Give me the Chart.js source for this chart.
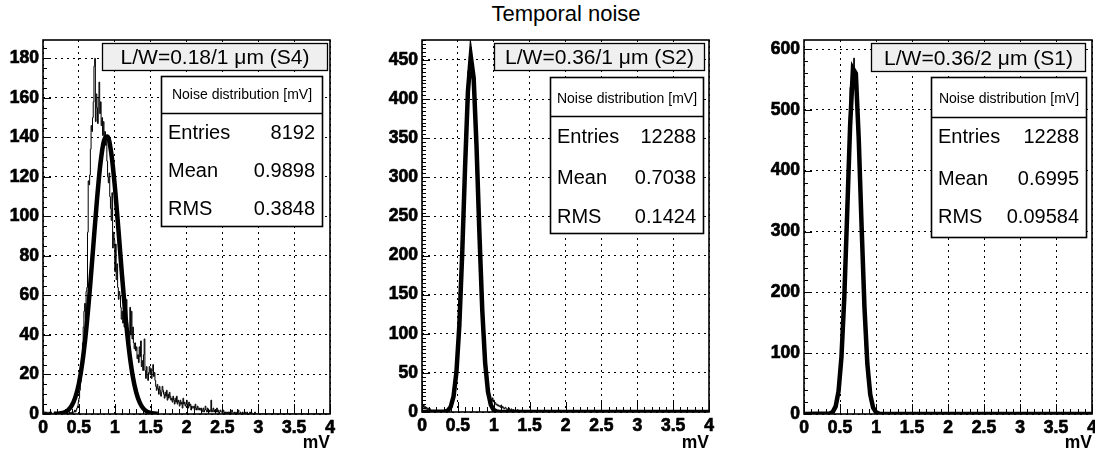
<!DOCTYPE html>
<html>
<head>
<meta charset="utf-8">
<script src="https://cdn.jsdelivr.net/npm/chart.js@4.4.1/dist/chart.umd.min.js"></script>
<style>
html,body{margin:0;padding:0;background:#fff;}
#wrap{position:relative;width:1095px;height:456px;overflow:hidden;background:#fff;}
canvas{position:absolute;top:0;}
#title{position:absolute;left:366px;top:3px;width:400px;text-align:center;font:22px "Liberation Sans",Arial,Helvetica,sans-serif;line-height:22px;color:#000;}
</style>
</head>
<body>
<div id="wrap">
<div id="title">Temporal noise</div>
<canvas id="c1" width="365" height="456" style="left:0px"></canvas>
<canvas id="c2" width="365" height="456" style="left:365px"></canvas>
<canvas id="c3" width="365" height="456" style="left:730px"></canvas>
</div>
<script>
// ---------------- DATA ----------------
const xTickLabels = ['0', '0.5', '1', '1.5', '2', '2.5', '3', '3.5', '4'];
const axisTitle = 'mV';
const binWidth = 0.01;          // histogram bin width (mV)
const histStart = 0.0;          // first bin lower edge (mV)

const panelTitles = ['L/W=0.18/1 \u03BCm (S4)', 'L/W=0.36/1 \u03BCm (S2)', 'L/W=0.36/2 \u03BCm (S1)'];
const statHeader = 'Noise distribution [mV]';
const statNames = ['Entries', 'Mean', 'RMS'];
const statsS4 = ['8192', '0.9898', '0.3848'];
const statsS2 = ['12288', '0.7038', '0.1424'];
const statsS1 = ['12288', '0.6995', '0.09584'];

// counts per 0.01 mV bin, starting at 0.00 mV
const histS4 = [
  8,2,1,0,1,0,1,0,0,1,
  0,0,1,0,0,0,0,1,0,0,
  0,0,0,0,0,1,0,0,0,0,
  0,0,0,0,1,0,0,0,1,0,
  0,1,0,1,1,2,1,2,3,4,
  6,8,12,16,22,28,36,44,52,56,
  48,62,64,92,118,116,121,134,146,143,
  150,158,176,180,148,162,155,147,160,168,
  152,158,146,150,141,148,140,143,136,140,
  128,120,117,122,110,104,98,112,84,92,
  88,72,86,68,76,64,58,62,60,54,
  48,52,46,57,44,50,41,58,46,38,
  42,36,54,40,52,38,44,36,33,36,
  32,34,28,30,26,34,29,37,24,27,
  22,30,38,22,18,24,20,17,21,24,
  20,23,18,22,25,19,21,17,14,12,
  15,13,10,14,12,9,11,14,12,10,
  8,11,9,12,7,10,8,11,9,7,
  8,6,9,7,5,8,6,9,5,7,
  6,4,7,5,6,3,8,5,6,4,
  5,7,4,3,6,4,5,2,4,3,
  3,4,2,5,3,2,4,3,2,3,
  2,3,1,2,3,1,2,4,2,1,
  3,1,2,1,2,7,1,2,3,1,
  2,2,1,3,1,2,0,1,2,1,
  1,0,2,1,0,1,0,1,0,1,
  0,1,0,0,2,1,0,0,1,0,
  0,1,0,2,0,0,1,0,0,1,
  0,0,1,0,0,1,0,0,0,1,
  0,1,0,0,0,0,1,0,0,0
];
const histS2 = [
  37,8,6,9,5,7,4,6,3,5,
  3,2,4,2,1,2,1,1,2,0,
  1,0,1,0,0,1,0,0,1,0,
  0,0,1,0,1,1,1,2,2,4,
  6,9,14,16,24,28,37,44,58,70,
  82,103,118,143,162,191,213,244,268,300,
  324,356,374,402,417,436,444,455,451,466,
  445,437,416,402,375,355,324,300,268,244,
  212,191,162,143,118,103,86,72,60,48,
  40,33,28,24,21,19,17,16,14,18,
  13,15,11,12,9,10,8,9,7,8,
  6,9,5,7,6,4,5,6,4,3,
  4,3,5,3,2,4,3,2,3,2,
  2,3,1,2,3,2,1,2,1,2,
  1,2,1,1,2,1,0,1,2,1,
  1,0,1,1,0,2,1,0,1,0,
  0,1,0,1,0,0,1,0,0,1,
  0,0,1,0,1,0,0,0,1,0,
  1,0,0,0,0,1,0,0,0,0,
  0,0,1,0,0,0,0,1,0,0
];
const histS1 = [
  6,1,0,1,0,0,1,0,0,0,
  0,0,0,0,1,0,0,0,0,0,
  0,0,0,0,0,0,0,1,0,0,
  0,0,0,0,0,0,0,0,1,1,
  4,5,8,11,14,20,25,32,43,53,
  69,83,104,124,151,177,209,240,277,311,
  351,385,423,455,489,537,545,560,566,572,
  585,562,546,522,500,468,437,400,365,326,
  291,254,222,189,162,133,112,90,75,58,
  48,35,29,21,17,12,9,7,5,3,
  3,2,2,1,2,1,1,0,1,1,
  0,1,0,0,1,0,0,0,0,1,
  0,0,0,1,0,0,0,0,0,0,
  0,0,0,0,0,1,0,0,0,0,
  0,0,0,0,0,0,0,0,0,0,
  0,0,0,0,0,0,0,0,0,0,
  0,0,0,0,0,0,0,0,0,0,
  0,0,0,0,0,0,0,0,0,0,
  0,0,0,0,0,0,0,0,0,0,
  0,0,0,0,0,0,0,0,0,0
];

// Gaussian fit curves as drawn (x in mV, y in counts)
const fitS4x = [0.15,0.20,0.25,0.30,0.35,0.40,0.45,0.50,0.55,0.60,0.65,0.70,0.75,0.80,0.85,0.90,0.95,1.00,1.05,1.10,1.15,1.20,1.25,1.30,1.35,1.40,1.45,1.50,1.55,1.60];
const fitS4y = [0.04,0.13,0.34,0.85,1.96,4.2,8.4,15.4,26.4,41.9,61.8,84.6,107.4,126.6,138.4,140.5,132.4,115.7,93.9,70.7,49.4,32.1,19.3,10.8,5.6,2.7,1.2,0.5,0.2,0.07];
const fitS2x = [0,0.32,0.36,0.40,0.44,0.48,0.52,0.56,0.60,0.64,0.68,0.72,0.76,0.80,0.84,0.88,0.92,0.96,1.00,1.04,1.08,4];
const fitS2y = [0,0.5,1.9,6.6,20.0,51.0,110.2,201.6,312.4,409.5,454.4,426.9,339.5,228.7,130.2,62.8,25.7,8.9,2.6,0.6,0.1,0];
const fitS1x = [0,0.36,0.40,0.44,0.48,0.52,0.56,0.60,0.64,0.68,0.72,0.76,0.80,0.84,0.88,0.92,0.96,1.00,1.04,1.08,4];
const fitS1y = [0,0.8,3.5,12.5,37.5,93.2,192.6,330.8,472.3,568,560,453.3,308.5,174.8,82.2,32.2,10.4,2.8,0.6,0.1,0];

// ---------------- RENDER ----------------
const FONT = '"Liberation Sans", Arial, Helvetica, sans-serif';
const W = 365, H = 456, YW = 40;

function histPoints(counts) {
  const pts = [{x: histStart, y: 0}];
  counts.forEach((c, i) => pts.push({x: histStart + i * binWidth, y: c}));
  pts.push({x: histStart + counts.length * binWidth, y: 0});
  pts.push({x: 4, y: 0});
  return pts;
}
function fitPoints(xs, ys) { return xs.map((x, i) => ({x: x, y: ys[i]})); }

const rootDecor = {
  id: 'rootDecor',
  afterDraw(chart, args, o) {
    const ctx = chart.ctx, a = chart.chartArea, xs = chart.scales.x, ys = chart.scales.y;
    ctx.save();
    ctx.strokeStyle = '#000';
    ctx.lineWidth = 1;
    ctx.beginPath();
    for (let i = 0; ; i++) {
      const v = i * o.xMinor;
      if (v > xs.max + 1e-9) break;
      const r = v / o.xMajor, major = Math.abs(r - Math.round(r)) < 1e-6;
      const px = Math.round(xs.getPixelForValue(v)) + 0.5;
      ctx.moveTo(px, a.bottom);
      ctx.lineTo(px, a.bottom - (major ? 10 : 5));
    }
    for (let i = 0; ; i++) {
      const v = i * o.yMinor;
      if (v > ys.max + 1e-9) break;
      const r = v / o.yMajor, major = Math.abs(r - Math.round(r)) < 1e-6;
      const py = Math.round(ys.getPixelForValue(v)) + 0.5;
      ctx.moveTo(a.left, py);
      ctx.lineTo(a.left + (major ? 8 : 4), py);
    }
    ctx.stroke();
    // frame
    ctx.lineWidth = 1.6;
    ctx.strokeRect(a.left, a.top, a.right - a.left, a.bottom - a.top);

    // title box
    const tb = o.titleBox;
    const tx = a.right - tb.inset - tb.w, ty = a.top + tb.dy;
    ctx.fillStyle = '#efefef';
    ctx.fillRect(tx, ty, tb.w, tb.h);
    ctx.lineWidth = 1.3;
    ctx.strokeRect(tx + 0.5, ty + 0.5, tb.w - 1, tb.h - 1);
    ctx.fillStyle = '#000';
    ctx.font = '21px ' + FONT;
    ctx.textAlign = 'center';
    ctx.textBaseline = 'alphabetic';
    ctx.fillText(o.title, tx + tb.w / 2, ty + tb.base);

    // stats box
    const sb = o.statBox;
    const sx = a.right - sb.inset - sb.w, sy = a.top + sb.dy;
    ctx.fillStyle = '#fff';
    ctx.fillRect(sx, sy, sb.w, sb.h);
    ctx.lineWidth = 1.6;
    ctx.strokeRect(sx + 0.5, sy + 0.5, sb.w - 1, sb.h - 1);
    ctx.beginPath();
    ctx.moveTo(sx, sy + sb.sep + 0.5);
    ctx.lineTo(sx + sb.w, sy + sb.sep + 0.5);
    ctx.stroke();
    ctx.fillStyle = '#000';
    ctx.font = '14px ' + FONT;
    ctx.textAlign = 'center';
    ctx.fillText(statHeader, sx + sb.w / 2, sy + sb.hb);
    ctx.font = '20px ' + FONT;
    statNames.forEach((n, i) => {
      ctx.textAlign = 'left';
      ctx.fillText(n, sx + 7, sy + sb.rows[i]);
      ctx.textAlign = 'right';
      ctx.fillText(o.stats[i], sx + sb.w - 8, sy + sb.rows[i]);
    });
    ctx.restore();
  }
};

function makeChart(id, p) {
  const tickFont = {family: FONT, size: 17.5, weight: 'bold'};
  return new Chart(document.getElementById(id), {
    type: 'line',
    data: {
      datasets: [
        {data: fitPoints(p.fitX, p.fitY), borderColor: '#000', borderWidth: 4.5, pointRadius: 0,
         fill: false, tension: p.smooth ? 0.4 : 0, cubicInterpolationMode: p.smooth ? 'monotone' : 'default',
         borderJoinStyle: 'miter'},
        {data: histPoints(p.hist), borderColor: '#000', borderWidth: 1, pointRadius: 0,
         fill: false, stepped: 'after'}
      ]
    },
    options: {
      responsive: false, animation: false, events: [],
      layout: {padding: {left: p.left - YW, right: W - p.right, top: p.top, bottom: 0}},
      scales: {
        x: {
          type: 'linear', min: 0, max: 4,
          afterFit(s) { s.height = H - p.bottom; s.paddingLeft = 0; s.paddingRight = 0; },
          ticks: {stepSize: 0.5, autoSkip: false, maxRotation: 0, padding: 4, color: '#000', font: tickFont,
                  textStrokeColor: '#000', textStrokeWidth: 0.7,
                  callback: (v, i) => xTickLabels[i]},
          grid: {color: '#000', lineWidth: 1, drawTicks: false},
          border: {display: false, dash: [2, 4]},
          title: {display: true, text: axisTitle, align: 'end', color: '#000', font: tickFont,
                  padding: {top: 0, bottom: 2}}
        },
        y: {
          type: 'linear', min: 0, max: p.ymax,
          afterFit(s) { s.width = YW; s.paddingTop = 0; s.paddingBottom = 0; },
          ticks: {stepSize: p.ystep, includeBounds: false, padding: 4, color: '#000', font: tickFont,
                  textStrokeColor: '#000', textStrokeWidth: 0.7},
          grid: {color: '#000', lineWidth: 1, drawTicks: false},
          border: {display: false, dash: [2, 4]}
        }
      },
      plugins: {
        legend: {display: false}, tooltip: {enabled: false},
        rootDecor: {
          xMinor: 0.1, xMajor: 0.5, yMinor: p.yminor, yMajor: p.ystep,
          title: p.title, stats: p.stats,
          titleBox: p.titleBox, statBox: p.statBox
        }
      }
    },
    plugins: [rootDecor]
  });
}

makeChart('c1', {
  hist: histS4, fitX: fitS4x, fitY: fitS4y, smooth: true,
  left: 43, right: 330, top: 40, bottom: 414, ymax: 189.3, ystep: 20, yminor: 5,
  title: panelTitles[0], stats: statsS4,
  titleBox: {inset: 2, w: 226, dy: 3, h: 28, base: 21},
  statBox: {inset: 7, w: 162, dy: 36, h: 151, sep: 37, hb: 23, rows: [63, 101, 139]}
});
makeChart('c2', {
  hist: histS2, fitX: fitS2x, fitY: fitS2y, smooth: false,
  left: 57, right: 344, top: 40, bottom: 412, ymax: 475.5, ystep: 50, yminor: 5,
  title: panelTitles[1], stats: statsS2,
  titleBox: {inset: 4, w: 211, dy: 3, h: 28, base: 21},
  statBox: {inset: 5, w: 154, dy: 37, h: 157, sep: 39, hb: 26, rows: [66, 107, 146]}
});
makeChart('c3', {
  hist: histS1, fitX: fitS1x, fitY: fitS1y, smooth: false,
  left: 74, right: 362, top: 40, bottom: 414, ymax: 614.8, ystep: 100, yminor: 20,
  title: panelTitles[2], stats: statsS1,
  titleBox: {inset: 6, w: 215, dy: 3, h: 29, base: 22},
  statBox: {inset: 5, w: 156, dy: 37, h: 161, sep: 40, hb: 26, rows: [66, 108, 146]}
});
</script>
</body>
</html>
